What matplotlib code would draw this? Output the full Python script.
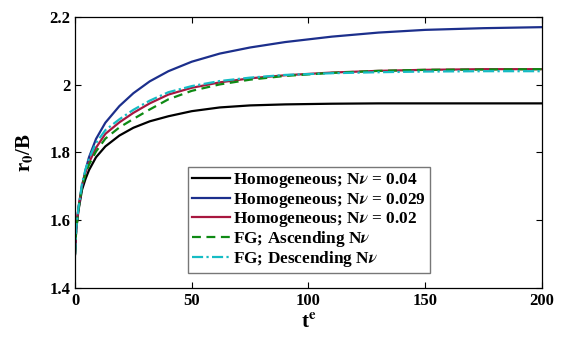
import matplotlib
matplotlib.use('Agg')
from matplotlib import pyplot as plt

# values
t = [0, 0.5, 1.5, 3, 4.5, 6, 9, 13, 19, 25, 32, 40, 50, 62, 75, 90, 110, 130, 150, 175, 200]
black = [1.50, 1.572, 1.630, 1.690, 1.722, 1.748, 1.786, 1.818, 1.850, 1.873, 1.892, 1.907, 1.922, 1.933, 1.939, 1.942, 1.944, 1.945, 1.945, 1.945, 1.945]
blue = [1.50, 1.575, 1.636, 1.700, 1.748, 1.786, 1.840, 1.888, 1.937, 1.975, 2.010, 2.040, 2.068, 2.092, 2.110, 2.126, 2.142, 2.154, 2.162, 2.167, 2.170]
red = [1.50, 1.575, 1.638, 1.703, 1.742, 1.770, 1.814, 1.855, 1.889, 1.917, 1.945, 1.971, 1.991, 2.007, 2.019, 2.028, 2.036, 2.041, 2.044, 2.046, 2.046]
green = [1.50, 1.572, 1.633, 1.700, 1.737, 1.764, 1.803, 1.841, 1.874, 1.899, 1.927, 1.957, 1.982, 2.001, 2.015, 2.026, 2.035, 2.041, 2.044, 2.045, 2.046]
cyan = [1.50, 1.575, 1.638, 1.708, 1.750, 1.782, 1.828, 1.866, 1.898, 1.926, 1.953, 1.978, 1.996, 2.011, 2.021, 2.029, 2.034, 2.037, 2.039, 2.040, 2.040]

labels = ['Homogeneous; N$\\nu$ = 0.04', 'Homogeneous; N$\\nu$ = 0.029',
          'Homogeneous; N$\\nu$ = 0.02', 'FG; Ascending N$\\nu$', 'FG; Descending N$\\nu$']

plt.rcParams['font.family'] = 'Liberation Serif'
plt.rcParams['font.weight'] = 'bold'
plt.rcParams['mathtext.fontset'] = 'stix'

fig = plt.figure(figsize=(5.61, 3.44), dpi=100)
ax = fig.add_axes([0.1337, 0.1628, 0.8324, 0.7878])

ax.plot(t, black, color='black', lw=1.6, label=labels[0])
ax.plot(t, blue, color='#1c2f8c', lw=1.6, label=labels[1])
ax.plot(t, red, color='#a8173f', lw=1.6, label=labels[2])
ax.plot(t, green, color='#0e8a14', lw=1.6, ls=(0, (4, 2.5)), label=labels[3])
ax.plot(t, cyan, color='#16bcc4', lw=1.6, ls=(0, (5, 1.5, 1, 1.5)), label=labels[4])

ax.set_xlim(0, 200)
ax.set_ylim(1.4, 2.2)
ax.set_xticks([0, 50, 100, 150, 200])
ax.set_yticks([1.4, 1.6, 1.8, 2.0, 2.2])
ax.set_yticklabels(['1.4', '1.6', '1.8', '2', '2.2'])
ax.tick_params(direction='in', labelsize=12, length=4, width=0.8, top=True, right=True)
for s in ax.spines.values():
    s.set_linewidth(0.9)

ax.set_xlabel('t$^{\\mathbf{e}}$', fontsize=15, fontweight='bold', labelpad=2)
ax.set_ylabel('r$_{\\mathbf{0}}$/B', fontsize=15, fontweight='bold', labelpad=10)

leg = ax.legend(loc='upper left', bbox_to_anchor=(0.2415, 0.446), fontsize=12.4,
                frameon=True, fancybox=False, borderpad=0.25, labelspacing=0.01,
                handlelength=2.2, handletextpad=0.2, borderaxespad=0)
leg.get_frame().set_edgecolor('#555555')
leg.get_frame().set_linewidth(1.0)

plt.savefig('out.png', dpi=100)
